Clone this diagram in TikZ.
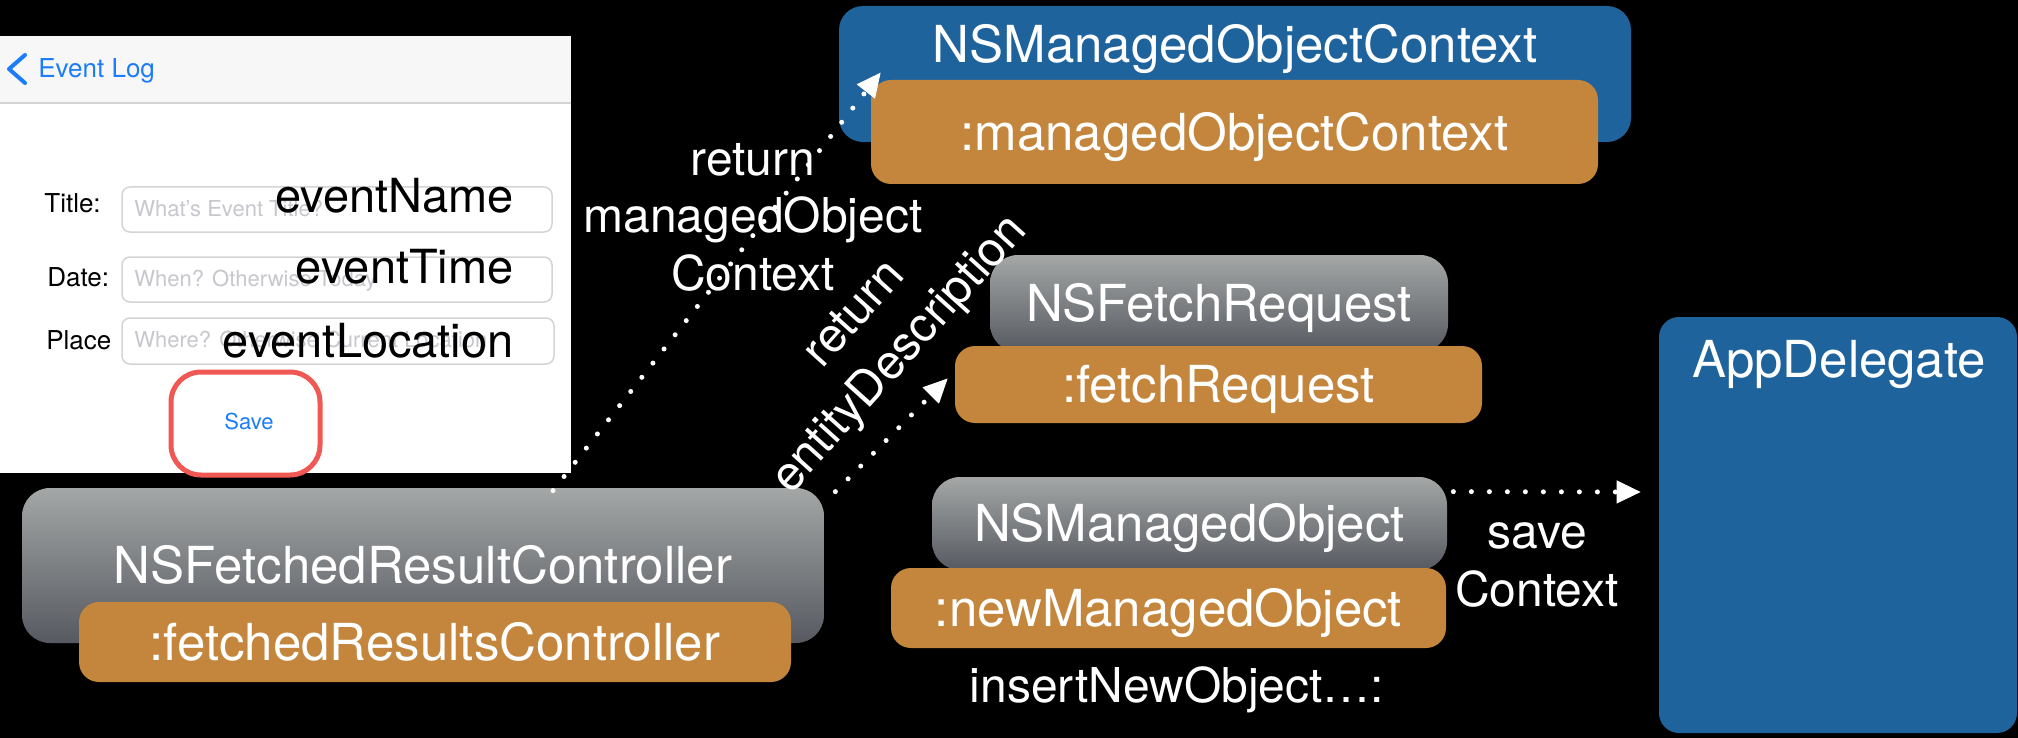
\documentclass[tikz,border=0pt]{standalone}
\usepackage{fontspec}
\setmainfont{TeX Gyre Heros}
\usetikzlibrary{calc,arrows.meta}

\definecolor{ctxblue}{RGB}{31,99,156}
\definecolor{varorange}{RGB}{196,134,60}
\definecolor{graytop}{RGB}{164,167,166}
\definecolor{graybot}{RGB}{86,89,96}
\definecolor{iosblue}{RGB}{28,125,250}
\definecolor{savered}{RGB}{240,88,84}
\definecolor{fieldgray}{RGB}{212,212,214}
\definecolor{hintgray}{RGB}{199,199,205}
\definecolor{barwhite}{RGB}{247,247,247}

\newcommand\boxfont{\fontsize{51}{60}\selectfont}
\newcommand\msgfont{\fontsize{48}{57.5}\selectfont}
\newcommand\formfont{\fontsize{26}{30}\selectfont}
\newcommand\hintfont{\fontsize{22}{26}\selectfont}
\newcommand\attrfont{\fontsize{47}{56}\selectfont}

\tikzset{every picture/.style={line width=0.75pt}}
\tikzset{
  bluebox/.style={fill=ctxblue, rounded corners=24, inner sep=0},
  varbox/.style={fill=varorange, rounded corners=20, inner sep=0, text=white, font=\boxfont, text height=36.6pt, text depth=0pt},
  classbox/.style={top color=graytop, bottom color=graybot, rounded corners=28, inner sep=0, text=white, font=\boxfont, text height=36.6pt, text depth=0pt},
  boxname/.style={text=white, font=\boxfont, anchor=base, inner sep=0},
  msgtext/.style={text=white, font=\msgfont, align=center, inner sep=0},
  formlabel/.style={font=\formfont, anchor=base west, inner sep=0},
  hinttext/.style={text=hintgray, font=\hintfont, anchor=base west, inner sep=0},
  attrname/.style={font=\attrfont, anchor=base east, inner sep=0},
  inputfield/.style={draw=fieldgray, line width=1.5, rounded corners=8, fill=white},
  dotarrow/.style={white, line width=5, dash pattern=on 0pt off 18pt, line cap=round,
    -{Triangle[length=24, width=23, line width=1pt]}}
}

\begin{document}
\begin{tikzpicture}[x=1pt,y=1pt,yscale=-1,xscale=1]
%background, sets the size
\fill[black] (0,0) rectangle (2018,738);
\useasboundingbox (0,0) rectangle (2018,738);

%Shape: Screen shot
\fill[white] (0,36) rectangle (571,473);
\fill[barwhite] (0,36) rectangle (571,103);
\draw[fieldgray, line width=2] (0,103) -- (571,103);
\draw[iosblue, line width=4, line cap=round, line join=round] (25,55) -- (9,69) -- (25,83);
% Text Node
\node[formlabel, text=iosblue] (navtitle) at (38,78) {Event Log};

%Shape: Text fields
\draw[inputfield] (122,187) rectangle (552,232);
\draw[inputfield] (122,257) rectangle (552,302);
\draw[inputfield] (122,318) rectangle (554,364);
% Text Node
\node[formlabel] (titlelbl) at (44,212) {Title:};
\node[formlabel] (datelbl) at (47,286) {Date:};
\node[formlabel] (placelbl) at (46,349) {Place};
\node[hinttext] (titlehint) at (134,216) {What's Event Title?};
\node[hinttext] (datehint) at (134,286) {When? Otherwise Today};
\node[hinttext] (placehint) at (134,347) {Where? Otherwise Current Location};
\node[attrname] (evname) at (514,212) {eventName};
\node[attrname] (evtime) at (514,283) {eventTime};
\node[attrname] (evloc) at (514,357) {eventLocation};

%Shape: Save button
\draw[savered, line width=5, rounded corners=30] (171,372) rectangle (320,475);
% Text Node
\node[font=\hintfont, text=iosblue, anchor=base, inner sep=0] (savebtn) at (249,429) {Save};

%Shape: Rounded Rect [context]
\node[bluebox, minimum width=792, minimum height=136] (ctx) at (1235,74) {};
\node[boxname] (ctxname) at (1235,63) {NSManagedObjectContext};
\node[varbox, minimum width=727, minimum height=104] (ctxvar) at (1234.5,132) {:managedObjectContext};

%Shape: Rounded Rect [fetched results controller]
\node[classbox, minimum width=802, minimum height=155] (frc) at (423,565.5) {NSFetchedResultController};
\node[varbox, minimum width=712, minimum height=80] (frcvar) at (435,642) {:fetchedResultsController};

%Shape: Rounded Rect [fetch request]
\node[classbox, minimum width=458, minimum height=97] (fetch) at (1219,303.5) {NSFetchRequest};
\node[varbox, minimum width=527, minimum height=77] (fetchvar) at (1218.5,384.5) {:fetchRequest};

%Shape: Rounded Rect [managed object]
\node[classbox, minimum width=515, minimum height=93] (nsmo) at (1189.5,523.5) {NSManagedObject};
\node[varbox, minimum width=555, minimum height=80] (nsmovar) at (1168.5,608) {:newManagedObject};

%Shape: Rounded Rect [app delegate]
\node[bluebox, rounded corners=20, minimum width=358, minimum height=416] (app) at (1838,525) {};
\node[boxname] (appname) at (1839,377) {AppDelegate};

% Text Node
\node[msgtext] (retctx) at (753,217) {return\\managedObject\\Context};
\node[msgtext, rotate=48, font=\fontsize{48}{61}\selectfont] (retent) at (879,336) {return\\entityDescription};
\node[msgtext] (savectx) at (1537,565) {save\\Context};
\node[msgtext, anchor=base] (insert) at (1177,702) {insertNewObject…:};

%Straight Lines
\draw[dotarrow] ($(frc.north)+(130,3)$) -- ($(ctxvar.north west)+(10,-7)$);
\draw[dotarrow] ($(frc.north east)+(11,4)$) -- ($(fetchvar.west)+(-7,-6)$);
\draw[dotarrow] ($(nsmo.north east)+(6,15)$) -- ($(app.west)+(-18,-33)$);

\end{tikzpicture}
\end{document}
